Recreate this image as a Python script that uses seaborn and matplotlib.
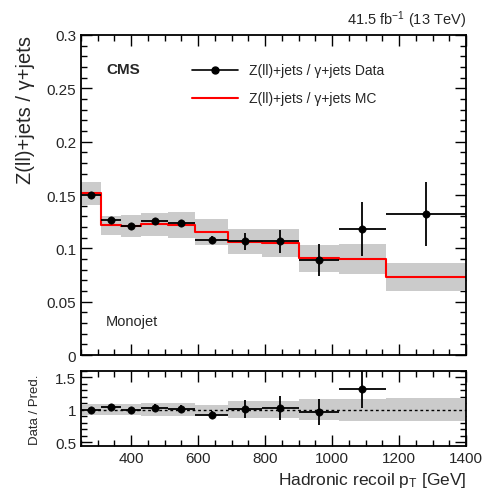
import numpy as np
import matplotlib
matplotlib.use("Agg")
import matplotlib.pyplot as plt
import seaborn as sns
from matplotlib.ticker import MultipleLocator
from matplotlib.lines import Line2D

# ---- data ----
bin_edges = [250, 310, 370, 430, 510, 590, 690, 790, 900, 1020, 1160, 1400]
data_vals = [0.150, 0.1266, 0.1206, 0.1256, 0.1238, 0.1078, 0.1066, 0.1066, 0.089, 0.118, 0.132]
data_errs = [0.003, 0.003, 0.002, 0.003, 0.003, 0.004, 0.008, 0.011, 0.015, 0.025, 0.030]
mc_vals = [0.1516, 0.1215, 0.1210, 0.1225, 0.1220, 0.1150, 0.1063, 0.1050, 0.0906, 0.0900, 0.0731]
mc_unc = [0.011, 0.009, 0.010, 0.011, 0.0125, 0.0123, 0.012, 0.0135, 0.013, 0.0145, 0.0135]
ratio_vals = [1.00, 1.045, 1.00, 1.03, 1.015, 0.92, 1.01, 1.025, 0.97, 1.32]
ratio_errs = [0.02, 0.04, 0.03, 0.05, 0.06, 0.06, 0.14, 0.18, 0.20, 0.30]
ratio_unc = [0.085, 0.085, 0.085, 0.095, 0.095, 0.07, 0.13, 0.13, 0.16, 0.17, 0.18]

sns.set_theme(style="ticks")
plt.rcParams['font.family'] = ['Liberation Sans', 'DejaVu Sans']
plt.rcParams['mathtext.fontset'] = 'custom'
plt.rcParams['mathtext.rm'] = 'Liberation Sans'
plt.rcParams['mathtext.it'] = 'Liberation Sans'

edges = np.array(bin_edges, dtype=float)
centers = 0.5 * (edges[:-1] + edges[1:])
halfw = 0.5 * np.diff(edges)

fig = plt.figure(figsize=(4.87, 5.02), dpi=100)
ax = fig.add_axes([0.1663, 0.2908, 0.7906, 0.6375])
rax = fig.add_axes([0.1663, 0.1096, 0.7906, 0.150])

grey = '#cbcbcb'

# main panel
mc = np.array(mc_vals)
unc = np.array(mc_unc)
ax.fill_between(edges, np.append(mc - unc, (mc - unc)[-1]), np.append(mc + unc, (mc + unc)[-1]),
                step='post', color=grey, lw=0, zorder=1)
sns.lineplot(x=edges, y=np.append(mc, mc[-1]), drawstyle='steps-post', color='#ff0000',
             lw=1.5, ax=ax, zorder=2, estimator=None, sort=False)
ax.errorbar(centers, data_vals, yerr=data_errs, xerr=halfw, fmt='none', ecolor='black',
            elinewidth=1.3, capsize=0, zorder=3)
sns.scatterplot(x=centers, y=data_vals, color='black', s=28, edgecolor='black', ax=ax, zorder=4)

ax.set_xlim(250, 1400)
ax.set_ylim(0, 0.3)
ax.yaxis.set_minor_locator(MultipleLocator(0.01))
ax.xaxis.set_major_locator(MultipleLocator(200))
ax.xaxis.set_minor_locator(MultipleLocator(50))
ax.set_yticks([0, 0.05, 0.1, 0.15, 0.2, 0.25, 0.3])
ax.set_yticklabels(['0', '0.05', '0.1', '0.15', '0.2', '0.25', '0.3'])
ax.tick_params(axis='x', labelbottom=False)
ax.set_xlabel('')
ax.set_ylabel('Z(ll)+jets / γ+jets', fontsize=14.5, loc='top')

# legend
h1 = Line2D([0], [0], color='black', marker='o', markersize=5, lw=1.2)
h2 = Line2D([0], [0], color='#ff0000', lw=1.5)
leg = ax.legend([h1, h2], ['Z(ll)+jets / γ+jets Data', 'Z(ll)+jets / γ+jets MC'],
                loc='upper left', bbox_to_anchor=(0.255, 0.95), frameon=False,
                fontsize=10, handlelength=3.3, labelspacing=1.0, handletextpad=0.8)

ax.text(0.065, 0.895, 'CMS', transform=ax.transAxes, fontsize=11, fontweight='bold',
        ha='left', va='center')
ax.text(0.065, 0.105, 'Monojet', transform=ax.transAxes, fontsize=10.5,
        ha='left', va='center')
ax.text(1.0, 1.015, r'41.5 fb$^{-1}$ (13 TeV)', transform=ax.transAxes, fontsize=10.5,
        ha='right', va='bottom')

# ratio panel
runc = np.array(ratio_unc)
rax.fill_between(edges, np.append(1 - runc, 1 - runc[-1]), np.append(1 + runc, 1 + runc[-1]),
                 step='post', color=grey, lw=0, zorder=1)
rax.axhline(1.0, color='black', ls=(0, (2, 2)), lw=1.0, zorder=2)
n = len(ratio_vals)
rax.errorbar(centers[:n], ratio_vals, yerr=ratio_errs, xerr=halfw[:n], fmt='none',
             ecolor='black', elinewidth=1.3, capsize=0, zorder=3)
sns.scatterplot(x=centers[:n], y=ratio_vals, color='black', s=28, edgecolor='black', ax=rax, zorder=4)
rax.set_xlim(250, 1400)
rax.set_ylim(0.44, 1.6)
rax.set_yticks([0.5, 1.0, 1.5])
rax.set_yticklabels(['0.5', '1', '1.5'])
rax.yaxis.set_minor_locator(MultipleLocator(0.1))
rax.xaxis.set_major_locator(MultipleLocator(200))
rax.xaxis.set_minor_locator(MultipleLocator(50))
rax.set_ylabel('Data / Pred.', fontsize=9.5)
rax.set_xlabel(r'Hadronic recoil p$_{\rm T}$ [GeV]', fontsize=12.5, loc='right')

for a in (ax, rax):
    a.tick_params(which='both', direction='in', top=True, right=True, labelsize=11,
                  color='black', width=1.0)
    a.tick_params(which='major', length=8)
    a.tick_params(which='minor', length=4)
    for s in a.spines.values():
        s.set_visible(True)
        s.set_linewidth(1.3)
        s.set_color('black')

ax.yaxis.set_label_coords(-0.12, 1.0)
rax.yaxis.set_label_coords(-0.105, 0.5)
fig.savefig('out.png', dpi=100)
